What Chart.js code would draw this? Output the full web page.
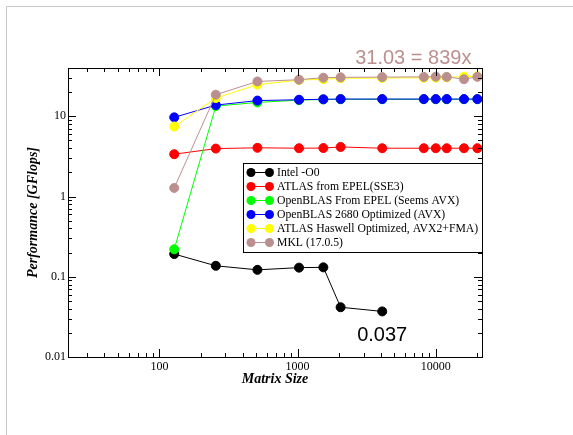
<!DOCTYPE html>
<html>
<head>
<meta charset="utf-8">
<script src="https://cdn.jsdelivr.net/npm/chart.js@4.4.1/dist/chart.umd.min.js"></script>
<style>
  html, body { margin: 0; padding: 0; background: #fff; }
  #wrap { width: 573px; height: 435px; }
</style>
</head>
<body>
<div id="wrap"><canvas id="chart" width="573" height="435"></canvas></div>
<script>
// values (GFlops vs matrix size)
const matrixSizes = [128, 256, 512, 1024, 1536, 2048, 4096, 8192, 10000, 12000, 16000, 20000];
const intelO0 = [0.192, 0.137, 0.122, 0.130, 0.131, 0.0417, 0.037];
const atlasEpel = [3.37, 3.96, 4.05, 4.0, 4.02, 4.15, 4.0, 4.0, 4.0, 4.0, 4.0, 4.0];
const openblasEpel = [0.22, 13.4, 14.9, 15.9, 16.2, 16.3, 16.3, 16.3, 16.3, 16.3, 16.3, 16.3];
const openblas2680 = [9.7, 13.8, 15.7, 16.1, 16.3, 16.4, 16.4, 16.4, 16.4, 16.4, 16.4, 16.4];
const atlasHaswell = [7.45, 16.9, 24.8, 28.3, 29.0, 29.8, 30.0, 30.2, 30.3, 30.5, 31.2, 31.5];
const mkl = [1.28, 18.6, 27.2, 28.6, 30.3, 30.6, 30.8, 31.0, 31.2, 31.0, 29.0, 31.03];

const seriesNames = [
  'Intel -O0',
  'ATLAS from EPEL(SSE3)',
  'OpenBLAS From EPEL (Seems AVX)',
  'OpenBLAS 2680 Optimized (AVX)',
  'ATLAS Haswell Optimized, AVX2+FMA)',
  'MKL (17.0.5)'
];
const seriesValues = [intelO0, atlasEpel, openblasEpel, openblas2680, atlasHaswell, mkl];
const seriesColors = ['#000000', '#ff0000', '#00ff00', '#0000ff', '#ffff00', '#bc8f8f'];

const xTicks = [100, 1000, 10000];
const xTickLabels = ['100', '1000', '10000'];
const yTicks = [0.01, 0.1, 1, 10];
const yTickLabels = ['0.01', '0.1', '1', '10'];

const serif = 'Liberation Serif, Times New Roman, serif';
const sans = 'Liberation Sans, Arial, sans-serif';

function minorValues(min, max) {
  const out = [];
  for (let d = Math.floor(Math.log10(min)); d <= Math.ceil(Math.log10(max)); d++) {
    for (let k = 1; k < 10; k++) {
      const v = k * Math.pow(10, d);
      if (v >= min && v <= max) out.push({ v: v, major: k === 1 });
    }
  }
  return out;
}

const framePlugin = {
  id: 'frame',
  beforeDraw(chart) {
    const ctx = chart.ctx;
    ctx.save();
    ctx.strokeStyle = '#c8c8c8';
    ctx.lineWidth = 1;
    ctx.beginPath();
    ctx.moveTo(6.5, chart.height);
    ctx.lineTo(6.5, 6.5);
    ctx.lineTo(chart.width, 6.5);
    ctx.stroke();
    ctx.restore();
  },
  afterDraw(chart) {
    const ctx = chart.ctx;
    const a = chart.chartArea;
    const xs = chart.scales.x, ys = chart.scales.y;
    ctx.save();
    ctx.strokeStyle = '#000';
    ctx.lineWidth = 1;

    // inward ticks on all four sides
    ctx.beginPath();
    minorValues(xs.min, xs.max).forEach(t => {
      const px = Math.round(xs.getPixelForValue(t.v)) + 0.5;
      const len = t.major ? 8 : 4;
      ctx.moveTo(px, a.bottom); ctx.lineTo(px, a.bottom - len);
      ctx.moveTo(px, a.top); ctx.lineTo(px, a.top + len);
    });
    minorValues(ys.min, ys.max).forEach(t => {
      const py = Math.round(ys.getPixelForValue(t.v)) + 0.5;
      const len = t.major ? 8 : 4;
      ctx.moveTo(a.left, py); ctx.lineTo(a.left + len, py);
      ctx.moveTo(a.right, py); ctx.lineTo(a.right - len, py);
    });
    ctx.stroke();

    ctx.strokeRect(Math.round(a.left) + 0.5, Math.round(a.top) + 0.5,
      Math.round(a.right - a.left), Math.round(a.bottom - a.top));

    // annotations
    const lastBlack = chart.getDatasetMeta(0).data[intelO0.length - 1];
    ctx.fillStyle = '#000';
    ctx.font = '20px ' + sans;
    ctx.textAlign = 'center';
    ctx.textBaseline = 'alphabetic';
    ctx.fillText('0.037', lastBlack.x, lastBlack.y + 30);

    const lastMkl = chart.getDatasetMeta(5).data[mkl.length - 1];
    ctx.fillStyle = '#bc8f8f';
    ctx.textAlign = 'right';
    ctx.fillText('31.03 = 839x', lastMkl.x - 6, a.top - 4);

    // legend box
    const lw = 239, lh = 89;
    const lx = Math.round(a.right - lw), ly = Math.round(a.top + 95);
    ctx.fillStyle = '#fff';
    ctx.fillRect(lx, ly, lw, lh);
    ctx.strokeStyle = '#000';
    ctx.strokeRect(lx + 0.5, ly + 0.5, lw, lh);
    ctx.font = '11.7px ' + serif;
    ctx.textAlign = 'left';
    ctx.textBaseline = 'middle';
    chart.data.datasets.forEach((ds, i) => {
      const cy = ly + 9.5 + i * 14;
      ctx.strokeStyle = ds.borderColor;
      ctx.fillStyle = ds.borderColor;
      ctx.beginPath();
      ctx.moveTo(lx + 8, cy); ctx.lineTo(lx + 26.5, cy);
      ctx.stroke();
      [lx + 8, lx + 26.5].forEach(cx => {
        ctx.beginPath();
        ctx.arc(cx, cy, 4.5, 0, Math.PI * 2);
        ctx.fill();
      });
      ctx.fillStyle = '#000';
      ctx.fillText(ds.label, lx + 34, cy + 0.5);
    });
    ctx.restore();
  }
};

new Chart(document.getElementById('chart'), {
  type: 'line',
  data: {
    datasets: seriesNames.map((name, i) => ({
      label: name,
      data: seriesValues[i].map((v, j) => ({ x: matrixSizes[j], y: v })),
      borderColor: seriesColors[i],
      backgroundColor: seriesColors[i],
      pointBackgroundColor: seriesColors[i],
      pointBorderColor: seriesColors[i],
      borderWidth: 1,
      pointRadius: 4.5,
      pointBorderWidth: 1,
      tension: 0,
      order: seriesNames.length - 1 - i
    }))
  },
  options: {
    responsive: false,
    devicePixelRatio: 1,
    animation: false,
    layout: { padding: { top: 68, right: 91, left: 0, bottom: 0 } },
    plugins: {
      legend: { display: false },
      tooltip: { enabled: false }
    },
    scales: {
      x: {
        type: 'logarithmic',
        min: 21.8,
        max: 21600,
        grid: { display: false, drawTicks: false },
        border: { display: false },
        afterBuildTicks: s => { s.ticks = xTicks.map(v => ({ value: v })); },
        afterFit: s => { s.height = 78; },
        ticks: {
          autoSkip: false,
          maxRotation: 0,
          padding: 3,
          color: '#000',
          font: { family: serif, size: 12 },
          callback: v => xTickLabels[xTicks.indexOf(v)]
        },
        title: {
          display: true,
          text: 'Matrix Size',
          color: '#000',
          font: { family: serif, size: 14, style: 'italic', weight: 'bold' },
          padding: { top: 0, bottom: 47.6 }
        }
      },
      y: {
        type: 'logarithmic',
        min: 0.01,
        max: 40,
        grid: { display: false, drawTicks: false },
        border: { display: false },
        afterBuildTicks: s => { s.ticks = yTicks.map(v => ({ value: v })); },
        afterFit: s => { s.width = 68; },
        ticks: {
          autoSkip: false,
          padding: 2,
          color: '#000',
          font: { family: serif, size: 12 },
          callback: v => yTickLabels[yTicks.indexOf(v)]
        },
        title: {
          display: true,
          text: 'Performance [GFlops]',
          color: '#000',
          font: { family: serif, size: 14, style: 'italic', weight: 'bold' },
          padding: { top: 24.6, bottom: 0 }
        }
      }
    }
  },
  plugins: [framePlugin]
});
</script>
</body>
</html>
